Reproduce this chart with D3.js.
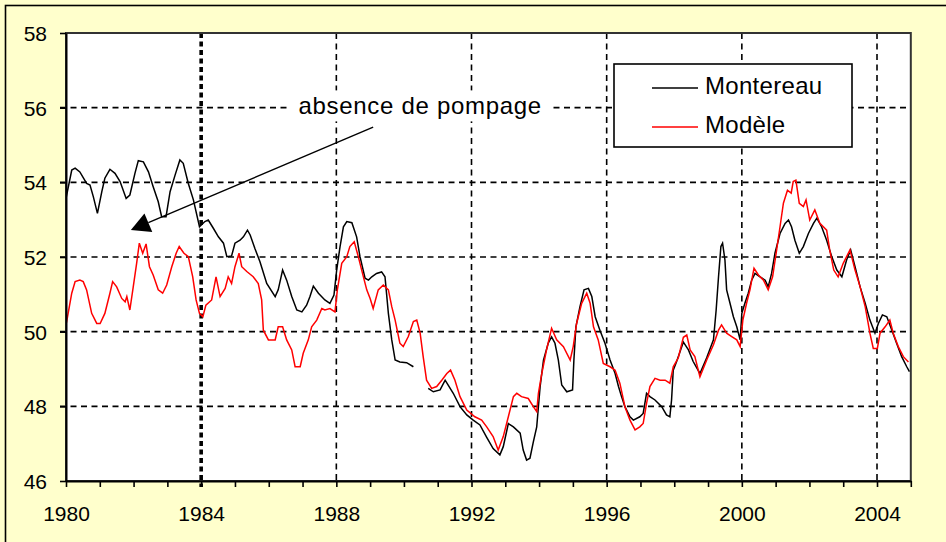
<!DOCTYPE html>
<html><head><meta charset="utf-8">
<script src="https://cdn.jsdelivr.net/npm/d3@7"></script>
<style>
html,body{margin:0;padding:0;background:#ffffcc;overflow:hidden}
text{font-family:"Liberation Sans",Arial,sans-serif;fill:#000}
</style>
</head><body><svg id="c" width="946" height="542"></svg>
<script>
// ---------- data ----------
const yTicks = [46, 48, 50, 52, 54, 56, 58];
const yGrid = [48, 50, 52, 54, 56];
const xLabelYears = [1980, 1984, 1988, 1992, 1996, 2000, 2004];
const yearTicks = d3.range(1980, 2006);
const gridYears = [1988, 1992, 1996, 2000, 2004];
const markerYear = 1984;
const seriesNames = ["Montereau", "Modèle"];
const seriesColors = ["#000000", "#ff0000"];
const annotationText = "absence de pompage";
const annotationPos = [1990.48, 55.82];
const arrowStart = [1989.09, 55.48];
const arrowTip = [1981.92, 52.72];

const montereau = [
[1980.00,53.70],[1980.02,53.66],[1980.17,54.33],[1980.27,54.38],[1980.41,54.28],[1980.61,53.97],[1980.71,53.93],
[1980.81,53.61],[1980.93,53.17],[1981.06,53.75],[1981.15,54.11],[1981.30,54.35],[1981.45,54.24],[1981.60,54.02],
[1981.78,53.57],[1981.89,53.66],[1982.04,54.24],[1982.14,54.58],[1982.29,54.55],[1982.44,54.28],[1982.58,53.88],
[1982.73,53.48],[1982.83,53.08],[1982.96,53.08],[1983.08,53.75],[1983.23,54.20],[1983.37,54.60],[1983.47,54.51],
[1983.62,53.97],[1983.77,53.53],[1983.95,52.81],[1984.11,52.95],[1984.21,52.99],[1984.36,52.77],[1984.51,52.54],
[1984.66,52.37],[1984.76,52.01],[1984.90,52.03],[1985.00,52.37],[1985.15,52.45],[1985.25,52.54],[1985.37,52.72],
[1985.45,52.59],[1985.59,52.23],[1985.74,51.87],[1985.94,51.29],[1986.19,50.94],[1986.28,51.12],[1986.41,51.65],
[1986.53,51.38],[1986.68,50.94],[1986.83,50.58],[1986.98,50.53],[1987.12,50.71],[1987.22,50.94],[1987.32,51.22],
[1987.47,51.03],[1987.66,50.85],[1987.81,50.76],[1987.93,50.98],[1988.01,51.65],[1988.11,52.28],[1988.21,52.81],
[1988.31,52.95],[1988.46,52.92],[1988.60,52.54],[1988.70,52.01],[1988.85,51.43],[1988.95,51.38],[1989.05,51.47],
[1989.19,51.56],[1989.34,51.60],[1989.44,51.47],[1989.54,50.49],[1989.64,49.78],[1989.74,49.24],[1989.88,49.19],
[1990.08,49.17],[1990.28,49.06],[1990.50,null],
[1990.72,48.48],[1990.87,48.39],[1991.07,48.44],[1991.22,48.70],[1991.31,48.57],[1991.46,48.35],[1991.66,47.99],
[1991.86,47.77],[1992.05,47.63],[1992.25,47.50],[1992.45,47.17],[1992.64,46.87],[1992.84,46.70],[1992.94,46.92],
[1993.09,47.54],[1993.24,47.45],[1993.44,47.28],[1993.53,46.83],[1993.63,46.56],[1993.73,46.61],[1993.83,47.05],
[1993.93,47.45],[1993.98,47.99],[1994.03,48.52],[1994.13,49.24],[1994.27,49.69],[1994.37,49.86],[1994.47,49.69],
[1994.57,49.24],[1994.67,48.57],[1994.82,48.39],[1994.99,48.44],[1995.03,49.24],[1995.09,50.13],[1995.21,50.67],
[1995.33,51.12],[1995.46,51.16],[1995.56,50.94],[1995.66,50.40],[1995.80,50.04],[1995.95,49.69],[1996.10,49.24],
[1996.25,48.88],[1996.35,48.53],[1996.44,48.26],[1996.54,47.99],[1996.69,47.72],[1996.79,47.63],[1996.98,47.72],
[1997.08,47.81],[1997.18,48.35],[1997.28,48.26],[1997.43,48.17],[1997.63,47.99],[1997.77,47.77],[1997.87,47.72],
[1997.92,48.17],[1997.97,48.97],[1998.07,49.20],[1998.27,49.72],[1998.42,49.51],[1998.56,49.20],[1998.76,48.88],
[1998.96,49.30],[1999.16,49.78],[1999.24,50.58],[1999.31,51.47],[1999.38,52.28],[1999.43,52.37],[1999.50,51.92],
[1999.55,51.12],[1999.65,50.76],[1999.75,50.40],[1999.85,50.13],[1999.95,49.78],[2000.00,50.49],[2000.09,50.76],
[2000.19,51.03],[2000.29,51.38],[2000.39,51.56],[2000.54,51.47],[2000.69,51.38],[2000.78,51.20],[2000.88,51.56],
[2000.98,52.10],[2001.13,52.63],[2001.28,52.90],[2001.38,52.99],[2001.47,52.81],[2001.57,52.45],[2001.70,52.10],
[2001.82,52.28],[2001.97,52.63],[2002.12,52.90],[2002.22,53.04],[2002.36,52.81],[2002.51,52.45],[2002.66,52.01],
[2002.81,51.65],[2002.96,51.47],[2003.10,51.92],[2003.22,52.19],[2003.35,51.74],[2003.50,51.20],[2003.65,50.76],
[2003.79,50.31],[2003.94,49.96],[2004.04,50.22],[2004.16,50.45],[2004.29,50.40],[2004.44,50.04],[2004.58,49.69],
[2004.73,49.33],[2004.88,49.06],[2004.96,48.93]
];

const modele = [
[1980.00,50.20],[1980.02,50.27],[1980.17,51.03],[1980.27,51.34],[1980.41,51.38],[1980.51,51.34],[1980.61,51.12],
[1980.76,50.49],[1980.91,50.22],[1981.01,50.22],[1981.15,50.49],[1981.30,51.03],[1981.38,51.34],[1981.50,51.20],
[1981.65,50.89],[1981.75,50.80],[1981.80,50.94],[1981.89,50.58],[1981.99,51.20],[1982.09,51.83],[1982.17,52.37],
[1982.27,52.10],[1982.37,52.35],[1982.47,51.74],[1982.58,51.52],[1982.73,51.12],[1982.86,51.03],[1982.98,51.25],
[1983.13,51.74],[1983.26,52.10],[1983.35,52.28],[1983.49,52.10],[1983.62,52.01],[1983.75,51.47],[1983.85,50.85],
[1983.95,50.49],[1984.05,50.40],[1984.14,50.71],[1984.31,50.85],[1984.44,51.47],[1984.56,50.94],[1984.71,51.16],
[1984.80,51.47],[1984.90,51.29],[1985.00,51.74],[1985.12,52.10],[1985.20,51.74],[1985.35,51.61],[1985.54,51.47],
[1985.69,51.29],[1985.79,50.85],[1985.84,50.04],[1985.99,49.78],[1986.19,49.78],[1986.28,50.13],[1986.41,50.13],
[1986.53,49.78],[1986.68,49.51],[1986.78,49.06],[1986.93,49.06],[1987.02,49.42],[1987.17,49.78],[1987.27,50.13],
[1987.42,50.31],[1987.57,50.62],[1987.66,50.58],[1987.81,50.62],[1987.96,50.53],[1988.03,51.12],[1988.16,51.83],
[1988.31,52.01],[1988.40,52.28],[1988.53,52.41],[1988.65,52.01],[1988.75,51.65],[1988.90,51.12],[1989.00,50.89],
[1989.09,50.62],[1989.24,51.12],[1989.39,51.25],[1989.54,51.12],[1989.64,50.67],[1989.74,50.31],[1989.88,49.69],
[1989.98,49.60],[1990.13,49.87],[1990.28,50.27],[1990.38,50.31],[1990.48,49.96],[1990.57,49.33],[1990.67,48.70],
[1990.82,48.48],[1990.97,48.53],[1991.12,48.70],[1991.27,48.88],[1991.38,48.97],[1991.51,48.70],[1991.66,48.26],
[1991.86,47.90],[1992.10,47.72],[1992.30,47.63],[1992.45,47.45],[1992.64,47.19],[1992.79,46.83],[1992.94,47.19],
[1993.09,47.72],[1993.24,48.26],[1993.34,48.35],[1993.48,48.26],[1993.68,48.21],[1993.83,47.99],[1993.93,47.86],
[1993.98,48.35],[1994.08,48.88],[1994.22,49.51],[1994.37,50.09],[1994.52,49.78],[1994.72,49.60],[1994.92,49.24],
[1995.01,49.60],[1995.11,50.22],[1995.26,50.76],[1995.41,51.03],[1995.51,50.76],[1995.61,50.13],[1995.75,49.78],
[1995.90,49.15],[1996.10,49.06],[1996.25,48.97],[1996.39,48.62],[1996.54,47.99],[1996.69,47.63],[1996.84,47.37],
[1996.98,47.45],[1997.08,47.54],[1997.18,48.08],[1997.28,48.53],[1997.43,48.75],[1997.58,48.70],[1997.73,48.70],
[1997.87,48.62],[1997.97,49.06],[1998.12,49.30],[1998.27,49.85],[1998.37,49.91],[1998.47,49.51],[1998.61,49.33],
[1998.76,48.79],[1998.96,49.24],[1999.16,49.65],[1999.31,50.04],[1999.40,50.18],[1999.55,49.96],[1999.70,49.87],
[1999.85,49.78],[1999.95,49.60],[2000.03,50.31],[2000.14,50.76],[2000.24,51.12],[2000.36,51.70],[2000.49,51.52],
[2000.64,51.38],[2000.78,51.12],[2000.91,51.47],[2001.03,52.19],[2001.13,52.81],[2001.23,53.44],[2001.35,53.79],
[2001.46,53.71],[2001.52,54.02],[2001.60,54.06],[2001.70,53.44],[2001.82,53.35],[2001.90,53.53],[2002.01,52.99],
[2002.16,53.26],[2002.31,52.90],[2002.51,52.72],[2002.60,52.19],[2002.72,51.65],[2002.85,51.47],[2003.00,51.83],
[2003.20,52.19],[2003.35,51.65],[2003.50,51.20],[2003.65,50.67],[2003.79,49.96],[2003.89,49.55],[2004.01,49.55],
[2004.09,49.96],[2004.24,50.13],[2004.38,50.31],[2004.48,49.96],[2004.63,49.60],[2004.78,49.33],[2004.93,49.19]
];

// ---------- chart ----------
const W = 946, H = 542;
const svg = d3.select("#c");
const x = d3.scaleLinear().domain([1980, 2005]).range([66, 910.8]);
const y = d3.scaleLinear().domain([46, 58]).range([481, 33]);
const font = '"Liberation Sans", Arial, sans-serif';

// outer background + border
svg.append("rect").attr("x", 5.5).attr("y", 5.5).attr("width", W + 20).attr("height", H + 20)
  .attr("fill", "#ffffcc").attr("stroke", "#000").attr("stroke-width", 1.6);

// plot area
const [x0, x1] = x.range(), [y0, y1] = [y(58), y(46)];
svg.append("rect").attr("x", x0).attr("y", y0).attr("width", x1 - x0).attr("height", y1 - y0)
  .attr("fill", "#fff");

svg.append("clipPath").attr("id", "clip").append("rect")
  .attr("x", x0).attr("y", y0).attr("width", x1 - x0).attr("height", y1 - y0);

// gridlines
const grid = svg.append("g");
grid.selectAll("line.h").data(yGrid).join("line").attr("class", "h")
  .attr("x1", x0 - 6).attr("x2", x1).attr("y1", d => y(d)).attr("y2", d => y(d))
  .attr("stroke", "#000").attr("stroke-width", 1.6).attr("stroke-dasharray", "6,4.5");
grid.selectAll("line.v").data(gridYears).join("line").attr("class", "v")
  .attr("x1", d => x(d)).attr("x2", d => x(d)).attr("y1", y0).attr("y2", y1)
  .attr("stroke", "#000").attr("stroke-width", 1.6).attr("stroke-dasharray", "6,4.5");
grid.append("line")
  .attr("x1", x(markerYear)).attr("x2", x(markerYear)).attr("y1", y0).attr("y2", y1 + 6)
  .attr("stroke", "#000").attr("stroke-width", 3.6).attr("stroke-dasharray", "5,3.5");

// series
const line = d3.line().defined(d => d[1] != null).x(d => x(d[0])).y(d => y(d[1]));
const series = [montereau, modele];
svg.append("g").attr("clip-path", "url(#clip)")
  .selectAll("path").data(series).join("path")
  .attr("d", line).attr("fill", "none")
  .attr("stroke", (d, i) => seriesColors[i]).attr("stroke-width", 1.5)
  .attr("stroke-linejoin", "miter");

// plot border (top/right)
svg.append("rect").attr("x", x0).attr("y", y0).attr("width", x1 - x0).attr("height", y1 - y0)
  .attr("fill", "none").attr("stroke", "#333").attr("stroke-width", 2);

// axes
const yAxis = d3.axisLeft(y).tickValues(yTicks).tickSize(6).tickSizeOuter(0).tickPadding(13);
const gy = svg.append("g").attr("transform", `translate(${x0},0)`).call(yAxis);
const xAxis = d3.axisBottom(x).tickValues(yearTicks).tickSize(6).tickSizeOuter(0)
  .tickFormat(d => xLabelYears.includes(d) ? String(d) : "");
const gx = svg.append("g").attr("transform", `translate(0,${y1})`).call(xAxis);
[gy, gx].forEach(g => {
  g.select(".domain").attr("stroke", "#000").attr("stroke-width", 2);
  g.selectAll(".tick line").attr("stroke", "#000").attr("stroke-width", 1.6);
  g.selectAll(".tick text").style("font-family", font).style("font-size", "21px").attr("fill", "#000");
});
gy.selectAll(".tick text").attr("dy", "0.36em");
gx.selectAll(".tick text").attr("dy", null).attr("y", 40);

// annotation
const ann = svg.append("g");
const annBg = ann.append("rect").attr("fill", "#fff");
const annText = ann.append("text").attr("x", x(annotationPos[0])).attr("y", y(annotationPos[1]))
  .attr("text-anchor", "middle").style("font-family", font).style("font-size", "24px")
  .style("letter-spacing", "0.7px").text(annotationText);
const bb = annText.node().getBBox();
annBg.attr("x", bb.x - 11).attr("y", bb.y - 2).attr("width", bb.width + 22).attr("height", bb.height + 4);

const sx = x(arrowStart[0]), sy = y(arrowStart[1]);
const tx = x(arrowTip[0]), ty = y(arrowTip[1]);
const len = Math.hypot(tx - sx, ty - sy);
const ux = (tx - sx) / len, uy = (ty - sy) / len;
const headL = 19, headW = 10;
const bxp = tx - ux * headL, byp = ty - uy * headL;
ann.append("line").attr("x1", sx).attr("y1", sy).attr("x2", bxp).attr("y2", byp)
  .attr("stroke", "#000").attr("stroke-width", 1.4);
ann.append("path")
  .attr("d", `M${tx},${ty}L${bxp - uy * headW},${byp + ux * headW}L${bxp + uy * headW},${byp - ux * headW}Z`)
  .attr("fill", "#000");

// legend
const lg = svg.append("g");
lg.append("rect").attr("x", 614).attr("y", 64).attr("width", 238).attr("height", 83)
  .attr("fill", "#fff").attr("stroke", "#000").attr("stroke-width", 1.6);
const items = lg.selectAll("g.item").data(seriesNames).join("g").attr("class", "item")
  .attr("transform", (d, i) => `translate(0,${88 + i * 39})`);
items.append("line").attr("x1", 652).attr("x2", 698).attr("y1", 0).attr("y2", 0)
  .attr("stroke", (d, i) => seriesColors[i]).attr("stroke-width", 1.5);
items.append("text").attr("x", 705).attr("y", 6).style("font-family", font).style("font-size", "24px")
  .style("letter-spacing", "0.3px").text(d => d);
</script>
</body></html>
